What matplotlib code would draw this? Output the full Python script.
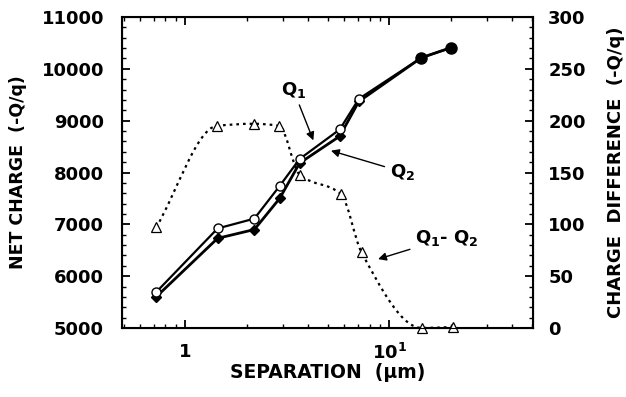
import numpy as np
import matplotlib.pyplot as plt
from matplotlib.path import Path
from matplotlib.patches import PathPatch
from matplotlib.ticker import FixedLocator, MultipleLocator

plt.rcParams['font.family'] = ['DejaVu Sans']
plt.rcParams['font.weight'] = 'bold'
plt.rcParams['mathtext.fontset'] = 'dejavusans'

# data
sep = [0.72, 1.44, 2.18, 2.90, 3.63, 5.71, 7.08, 14.35, 20.1]
q1 = [5690, 6920, 7110, 7740, 8260, 8830, 9420, 10215, 10410]
q2 = [5600, 6730, 6900, 7500, 8180, 8700, 9370, 10215, 10410]
diff_sep = [0.72, 1.43, 2.16, 2.89, 3.63, 5.80, 7.30, 14.4, 20.5]
diff = [97, 195, 197, 195, 148, 129, 73, 0, 1]

fig = plt.figure(figsize=(6.26, 3.97), dpi=100)
ax = fig.add_axes([122 / 626, 1 - 328 / 397, (533 - 122) / 626, (328 - 17) / 397])
ax2 = ax.twinx()

ax.set_xscale('log')
ax.set_xlim(0.49, 50.5)
ax.set_ylim(5000, 11000)
ax2.set_ylim(0, 300)

# Q1 open circles, Q2 filled diamonds
ax.plot(sep, q1, color='black', lw=1.6, marker='o', ms=6.5, mfc='white', mec='black', mew=1.0, zorder=3)
ax.plot(sep, q2, color='black', lw=2.0, marker='D', ms=5, mfc='black', mec='black', zorder=2)
ax.plot(sep[-2:], q1[-2:], ls='none', marker='o', ms=8, color='black', zorder=4)

# smooth dotted curve through the difference points (monotone cubic in log-x)
lx = np.log10(diff_sep)
dy = np.array(diff, dtype=float)
h = np.diff(lx)
s = np.diff(dy) / h
m = np.zeros_like(dy)
m[0], m[-1] = s[0], s[-1]
for i in range(1, len(dy) - 1):
    if s[i - 1] * s[i] > 0:
        w1 = 2 * h[i] + h[i - 1]
        w2 = h[i] + 2 * h[i - 1]
        m[i] = (w1 + w2) / (w1 / s[i - 1] + w2 / s[i])
verts = [(diff_sep[0], dy[0])]
codes = [Path.MOVETO]
for i in range(len(dy) - 1):
    c1 = (lx[i] + h[i] / 3, dy[i] + m[i] * h[i] / 3)
    c2 = (lx[i + 1] - h[i] / 3, dy[i + 1] - m[i + 1] * h[i] / 3)
    for c in (c1, c2, (lx[i + 1], dy[i + 1])):
        verts.append((10 ** c[0], c[1]))
        codes.append(Path.CURVE4)
ax2.add_patch(PathPatch(Path(verts, codes), fill=False, ls=(0, (1.2, 1.8)), lw=1.6, color='black'))
ax2.plot(diff_sep, diff, ls='none', marker='^', ms=6.5, mfc='white', mec='black', mew=0.9, clip_on=False)

# ticks
ax.xaxis.set_major_locator(FixedLocator([1, 10]))
ax.set_xticklabels(['1', r'$\mathbf{10^1}$'])
ax.yaxis.set_major_locator(MultipleLocator(1000))
ax.yaxis.set_minor_locator(MultipleLocator(200))
ax2.yaxis.set_major_locator(MultipleLocator(50))
ax2.yaxis.set_minor_locator(MultipleLocator(10))
for a in (ax, ax2):
    a.tick_params(which='major', direction='in', length=6, width=1.3, labelsize=13)
    a.tick_params(which='minor', direction='in', length=3, width=1.0)
ax.tick_params(axis='y', pad=13)
ax2.tick_params(axis='y', pad=11)
ax.tick_params(axis='x', which='both', top=True, pad=11)
for sp in ax.spines.values():
    sp.set_linewidth(1.5)
for lab in ax.get_yticklabels() + ax2.get_yticklabels() + ax.get_xticklabels():
    lab.set_fontweight('bold')

ax.set_xlabel('SEPARATION  (\u00b5m)', fontsize=13.5, fontweight='bold', labelpad=0)
ax.set_ylabel('NET CHARGE  (-Q/q)', fontsize=12.5, fontweight='bold')
ax2.set_ylabel('CHARGE  DIFFERENCE  (-Q/q)', fontsize=13, fontweight='bold')
ax.yaxis.set_label_coords(-95 / 411, 0.5)
ax2.yaxis.set_label_coords(1 + 74 / 411, 0.5)

arrow = dict(arrowstyle='-|>', color='black', lw=1.0, mutation_scale=12)
ax.annotate(r'$\mathbf{Q_1}$', xy=(4.29, 8570), xytext=(3.38, 9600), fontsize=13,
            ha='center', va='center', arrowprops=arrow)
ax.annotate(r'$\mathbf{Q_2}$', xy=(5.02, 8436), xytext=(11.6, 8010), fontsize=13,
            ha='center', va='center', arrowprops=arrow)
ax.annotate(r'$\mathbf{Q_1}$- $\mathbf{Q_2}$', xy=(8.54, 6313), xytext=(19.2, 6740), fontsize=13,
            ha='center', va='center', arrowprops=arrow)

fig.savefig('out.png', dpi=100)
